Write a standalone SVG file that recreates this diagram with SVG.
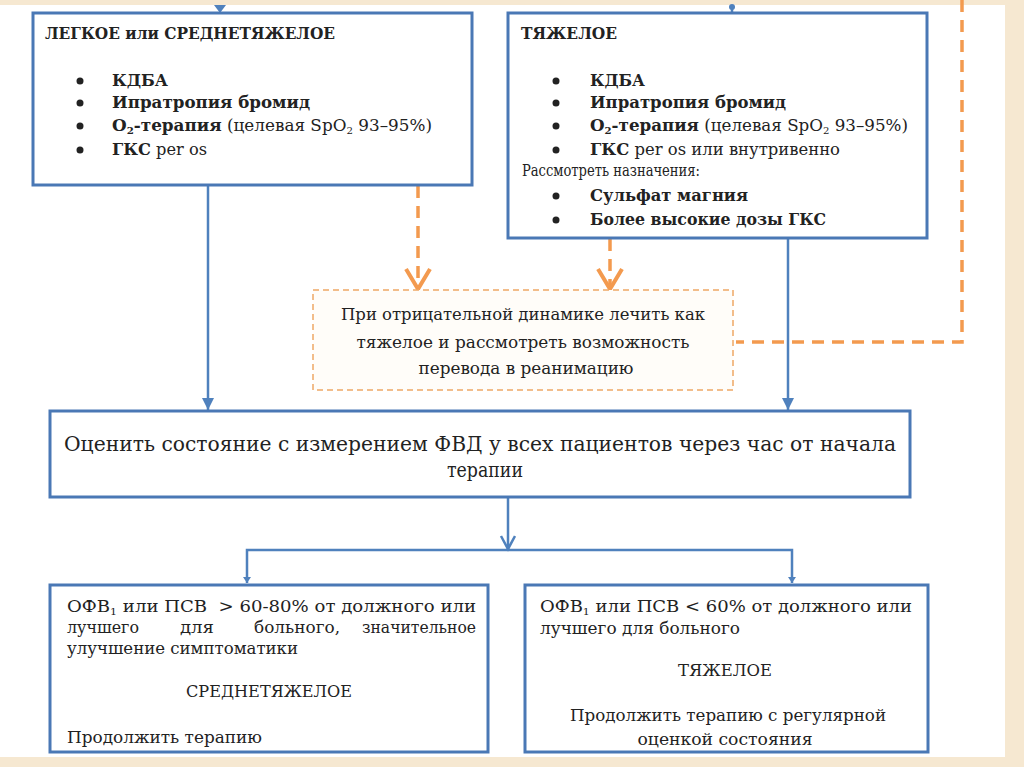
<svg xmlns="http://www.w3.org/2000/svg" width="1024" height="767" viewBox="0 0 1024 767">
<style>
.box{fill:#fff;stroke:#4a78b5;stroke-width:3}
.t{font-family:"DejaVu Serif","Liberation Serif",serif;fill:#222;font-size:16.5px}
.h{font-size:17px}
.b{font-weight:bold}
.mid{font-family:"DejaVu Serif","Liberation Serif",serif;fill:#222;font-size:20px}
.sm{font-size:10px}
.bl{fill:#222}
.conn{stroke:#4f81bd;stroke-width:2.5;fill:none}
.odash{stroke:#f39a4f;stroke-width:3.5;stroke-dasharray:12 8;fill:none}
</style>
<defs>
<marker id="ab" markerWidth="16" markerHeight="16" refX="12" refY="7" orient="auto" markerUnits="userSpaceOnUse"><path d="M0,1 L12,7 L0,13 z" fill="#4f81bd"/></marker>
<marker id="ac" markerWidth="18" markerHeight="18" refX="14" refY="8" orient="auto" markerUnits="userSpaceOnUse"><path d="M1,1 L14,8 L1,15" fill="none" stroke="#4f81bd" stroke-width="2.5" stroke-dasharray="none"/></marker>
<marker id="as" markerWidth="10" markerHeight="10" refX="6" refY="4" orient="auto" markerUnits="userSpaceOnUse"><path d="M0,0 L6,4 L0,8 z" fill="#4f81bd"/></marker>
<marker id="ao" markerWidth="30" markerHeight="30" refX="22" refY="14" orient="auto" markerUnits="userSpaceOnUse"><path d="M2,2 L22,14 L2,26" fill="none" stroke="#f39a4f" stroke-width="4" stroke-dasharray="none"/></marker>
</defs>
<rect x="0" y="0" width="1024" height="767" fill="#f6e8d1"/>
<rect x="0" y="5" width="1005" height="752" fill="#ffffff"/>

<g id="connectors">
<path class="odash" d="M962,0 V342 H736"/>
<path class="odash" d="M418,186 V289" marker-end="url(#ao)"/>
<path class="odash" d="M610,239 V289" marker-end="url(#ao)"/>
<path class="conn" d="M208,186 V410" marker-end="url(#ab)"/>
<path class="conn" d="M788,239 V410" marker-end="url(#ab)"/>
<path class="conn" d="M508,498 V549" marker-end="url(#ac)"/>
<path class="conn" d="M508,550 H247 V583" marker-end="url(#as)"/>
<path class="conn" d="M508,550 H792 V583" marker-end="url(#as)"/>
<path d="M214,5 L226,5 L220,13 z" fill="#4f81bd"/>
<path class="conn" d="M732,6 V13"/>
<circle cx="732" cy="7" r="3" fill="#4f81bd"/>
</g>

<g id="mild">
<rect class="box" x="33" y="13" width="439" height="172"/>
<text class="t b h" x="45" y="39" textLength="290" lengthAdjust="spacingAndGlyphs">ЛЕГКОЕ или СРЕДНЕТЯЖЕЛОЕ</text>
<circle class="bl" cx="80" cy="81" r="3.5"/>
<circle class="bl" cx="80" cy="103" r="3.5"/>
<circle class="bl" cx="80" cy="126" r="3.5"/>
<circle class="bl" cx="80" cy="150" r="3.5"/>
<text class="t b" x="112" y="86" textLength="56" lengthAdjust="spacingAndGlyphs">КДБА</text>
<text class="t b" x="112" y="108" textLength="198" lengthAdjust="spacingAndGlyphs">Ипратропия бромид</text>
<text class="t" x="112" y="131" textLength="320" lengthAdjust="spacingAndGlyphs"><tspan class="b">O<tspan class="sm" dy="3">2</tspan><tspan dy="-3">-терапия</tspan></tspan> (целевая SpO<tspan class="sm" dy="3">2</tspan><tspan dy="-3"> 93–95%)</tspan></text>
<text class="t" x="112" y="155" textLength="95" lengthAdjust="spacingAndGlyphs"><tspan class="b">ГКС</tspan> per os</text>
</g>

<g id="severe">
<rect class="box" x="508" y="13" width="419" height="225"/>
<text class="t b h" x="521" y="39" textLength="96" lengthAdjust="spacingAndGlyphs">ТЯЖЕЛОЕ</text>
<circle class="bl" cx="556" cy="81" r="3.5"/>
<circle class="bl" cx="556" cy="103" r="3.5"/>
<circle class="bl" cx="556" cy="126" r="3.5"/>
<circle class="bl" cx="556" cy="150" r="3.5"/>
<circle class="bl" cx="556" cy="196" r="3.5"/>
<circle class="bl" cx="556" cy="220" r="3.5"/>
<text class="t b" x="590" y="86" textLength="55" lengthAdjust="spacingAndGlyphs">КДБА</text>
<text class="t b" x="590" y="108" textLength="196" lengthAdjust="spacingAndGlyphs">Ипратропия бромид</text>
<text class="t" x="590" y="131" textLength="318" lengthAdjust="spacingAndGlyphs"><tspan class="b">O<tspan class="sm" dy="3">2</tspan><tspan dy="-3">-терапия</tspan></tspan> (целевая SpO<tspan class="sm" dy="3">2</tspan><tspan dy="-3"> 93–95%)</tspan></text>
<text class="t" x="590" y="155" textLength="250" lengthAdjust="spacingAndGlyphs"><tspan class="b">ГКС</tspan> per os или внутривенно</text>
<text class="t" x="522" y="176" textLength="178" lengthAdjust="spacingAndGlyphs">Рассмотреть назначения:</text>
<text class="t b" x="590" y="201" textLength="158" lengthAdjust="spacingAndGlyphs">Сульфат магния</text>
<text class="t b" x="590" y="225" textLength="236" lengthAdjust="spacingAndGlyphs">Более высокие дозы ГКС</text>
</g>

<g id="worsening">
<rect x="313" y="290" width="420" height="100" fill="#fffdf9" stroke="#eea865" stroke-width="1.5" stroke-dasharray="6 4"/>
<text class="t" x="523" y="320" text-anchor="middle" textLength="364" lengthAdjust="spacingAndGlyphs">При отрицательной динамике лечить как</text>
<text class="t" x="523" y="348" text-anchor="middle" textLength="333" lengthAdjust="spacingAndGlyphs">тяжелое и рассмотреть возможность</text>
<text class="t" x="526" y="374" text-anchor="middle" textLength="215" lengthAdjust="spacingAndGlyphs">перевода в реанимацию</text>
</g>

<g id="assess">
<rect class="box" x="50" y="411" width="860" height="86"/>
<text class="mid" x="64" y="451" textLength="832" lengthAdjust="spacingAndGlyphs">Оценить состояние с измерением ФВД у всех пациентов через час от начала</text>
<text class="mid" x="485" y="477" text-anchor="middle" textLength="76" lengthAdjust="spacingAndGlyphs">терапии</text>
</g>

<g id="moderate">
<rect class="box" x="50" y="585" width="438" height="167"/>
<text class="t" x="67" y="612" textLength="409" lengthAdjust="spacingAndGlyphs">ОФВ<tspan class="sm" dy="3">1</tspan><tspan dy="-3"> или ПСВ&#160; &gt; 60-80% от должного или</tspan></text>
<text class="t" x="67" y="633" textLength="72" lengthAdjust="spacingAndGlyphs">лучшего</text>
<text class="t" x="180" y="633" textLength="34" lengthAdjust="spacingAndGlyphs">для</text>
<text class="t" x="254" y="633" textLength="86" lengthAdjust="spacingAndGlyphs">больного,</text>
<text class="t" x="362" y="633" textLength="114" lengthAdjust="spacingAndGlyphs">значительное</text>
<text class="t" x="67" y="654" textLength="231" lengthAdjust="spacingAndGlyphs">улучшение симптоматики</text>
<text class="t" x="269" y="697" text-anchor="middle" textLength="166" lengthAdjust="spacingAndGlyphs">СРЕДНЕТЯЖЕЛОЕ</text>
<text class="t" x="67" y="743" textLength="195" lengthAdjust="spacingAndGlyphs">Продолжить терапию</text>
</g>

<g id="severe2">
<rect class="box" x="525" y="585" width="403" height="167"/>
<text class="t" x="540" y="612" textLength="372" lengthAdjust="spacingAndGlyphs">ОФВ<tspan class="sm" dy="3">1</tspan><tspan dy="-3"> или ПСВ &lt; 60% от должного или</tspan></text>
<text class="t" x="540" y="634" textLength="200" lengthAdjust="spacingAndGlyphs">лучшего для больного</text>
<text class="t" x="725" y="676" text-anchor="middle" textLength="94" lengthAdjust="spacingAndGlyphs">ТЯЖЕЛОЕ</text>
<text class="t" x="728" y="721" text-anchor="middle" textLength="316" lengthAdjust="spacingAndGlyphs">Продолжить терапию с регулярной</text>
<text class="t" x="725" y="745" text-anchor="middle" textLength="175" lengthAdjust="spacingAndGlyphs">оценкой состояния</text>
</g>
</svg>
